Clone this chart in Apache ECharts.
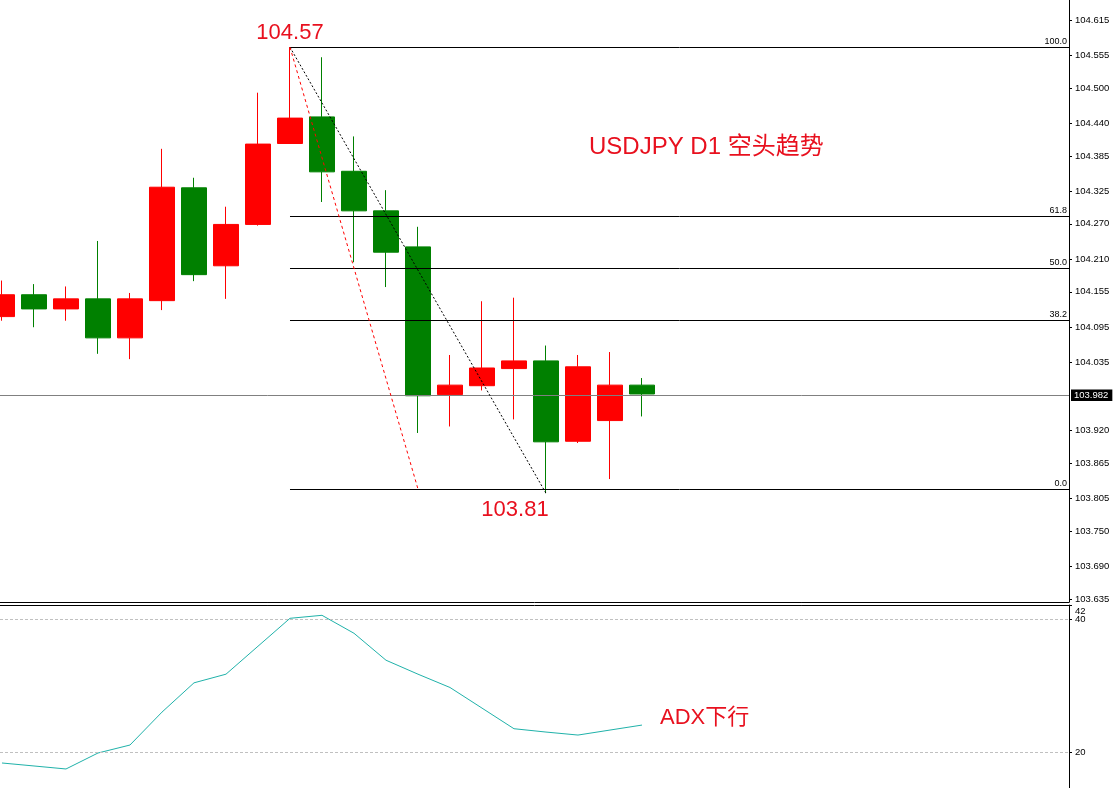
<!DOCTYPE html>
<html><head><meta charset="utf-8">
<script src="https://cdn.jsdelivr.net/npm/echarts@6/dist/echarts.min.js"></script>
<style>html,body{margin:0;padding:0;background:#fff;}#c{width:1117px;height:788px;}</style>
</head><body><div id="c"></div>
<script>
// ---- data ----
const bars   = [0,1,2,3,4,5,6,7,8,9,10,11,12,13,14,15,16,17,18,19,20];
const opens  = [104.113,104.150,104.126,104.143,104.077,104.140,104.331,104.199,104.269,104.406,104.451,104.359,104.292,104.231,103.981,103.996,104.025,104.038,103.902,103.937,103.997];
const closes = [104.150,104.126,104.143,104.077,104.143,104.332,104.184,104.269,104.405,104.449,104.358,104.292,104.222,103.979,103.997,104.026,104.038,103.901,104.028,103.997,103.982];
const lows   = [104.106,104.095,104.106,104.050,104.041,104.124,104.173,104.143,104.267,104.406,104.307,104.205,104.163,103.916,103.927,103.988,103.939,103.814,103.899,103.838,103.944];
const highs  = [104.174,104.168,104.164,104.241,104.153,104.397,104.348,104.299,104.492,104.569,104.552,104.418,104.327,104.265,104.048,104.139,104.145,104.064,104.048,104.053,104.009];
const adx    = [18.35,17.9,17.45,19.85,21.05,26.0,30.4,31.7,35.9,40.1,40.55,37.85,33.8,31.7,29.7,26.6,23.5,23.0,22.55,23.3,24.05];
const priceTicks = ['104.615','104.555','104.500','104.440','104.385','104.325','104.270','104.210','104.155','104.095','104.035','103.920','103.865','103.805','103.750','103.690','103.635'];
const adxTicks = ['20','40'];
const adxTopTick = ['42'];
const adxLevels = [20, 40];
const fibLevels = ['0.0','38.2','50.0','61.8','100.0'];
const fibHigh = 104.569, fibLow = 103.821;
const fibStartBar = 9, swingLowBar = 17, swingLowPrice = 103.814, fanEndBar = 13;
const lastPrice = 103.982;
const labelHigh = '104.57', labelLow = '103.81';
const titleText = 'USDJPY D1 空头趋势', adxNote = 'ADX下行';
const priceMin = 103.6299, priceMax = 104.6489;
const adxMin = 14.59, adxMax = 42.1;
const barMin = -0.0625, barMax = 33.344;

// ---- build ----
const RED = '#ff0000', GREEN = '#008000', TXT = '#e8101e';
const FONT = '"Liberation Sans","Noto Sans CJK SC",sans-serif';
const candleData = bars.map((b, i) => [b, opens[i], closes[i], lows[i], highs[i]]);
const adxData = bars.map((b, i) => [b, adx[i]]);

const fibLines = fibLevels.map(l => {
  const v = fibLow + (fibHigh - fibLow) * parseFloat(l) / 100;
  return [
    {coord: [fibStartBar, v], lineStyle: {color: '#000', width: 1, type: 'solid'},
     label: {show: true, formatter: l, position: 'insideEndTop', distance: [2, 1], color: '#000', fontSize: 9, fontFamily: FONT}},
    {coord: [barMax, v]}
  ];
});
const diagLines = [
  [{coord: [fibStartBar, fibHigh], lineStyle: {color: '#000', width: 1, type: [2, 2]}, label: {show: false}},
   {coord: [swingLowBar, swingLowPrice]}],
  [{coord: [fibStartBar, fibHigh], lineStyle: {color: RED, width: 1, type: [3, 3]}, label: {show: false}},
   {coord: [fanEndBar, fibLow]}]
];

const axisLabelBase = {show: true, margin: 6, color: '#000', fontSize: 9.5, fontFamily: FONT, hideOverlap: false};

const chart = echarts.init(document.getElementById('c'), null, {renderer: 'canvas'});
chart.setOption({
  animation: false,
  backgroundColor: '#fff',
  grid: [
    {left: 0, top: 0, width: 1069, height: 602, outerBoundsMode: 'none', containLabel: false},
    {left: 0, top: 605, width: 1069, height: 183, outerBoundsMode: 'none', containLabel: false}
  ],
  xAxis: [
    {type: 'value', gridIndex: 0, min: barMin, max: barMax, position: 'bottom',
     axisLine: {show: true, onZero: false, lineStyle: {color: '#000', width: 1}},
     axisTick: {show: false}, axisLabel: {show: false}, splitLine: {show: false}},
    {type: 'value', gridIndex: 1, min: barMin, max: barMax, position: 'top',
     axisLine: {show: true, onZero: false, lineStyle: {color: '#000', width: 1}},
     axisTick: {show: false}, axisLabel: {show: false}, splitLine: {show: false}}
  ],
  yAxis: [
    {type: 'value', gridIndex: 0, position: 'right', min: priceMin, max: priceMax, scale: true,
     axisLine: {show: true, onZero: false, lineStyle: {color: '#000', width: 1}},
     axisTick: {show: true, length: 3, lineStyle: {color: '#000'}, customValues: priceTicks.map(Number)},
     axisLabel: Object.assign({}, axisLabelBase, {showMinLabel: true, showMaxLabel: true,
                 customValues: priceTicks.map(Number), formatter: v => v.toFixed(3)}),
     splitLine: {show: false}},
    {type: 'value', gridIndex: 1, position: 'right', min: adxMin, max: adxMax,
     axisLine: {show: true, onZero: false, lineStyle: {color: '#000', width: 1}},
     axisTick: {show: true, length: 3, lineStyle: {color: '#000'}, customValues: adxTicks.map(Number)},
     axisLabel: Object.assign({}, axisLabelBase, {showMinLabel: true, showMaxLabel: true,
                 customValues: adxTicks.map(Number), formatter: v => String(Math.round(v))}),
     splitLine: {show: false}},
    {type: 'value', gridIndex: 1, position: 'right', min: adxMin, max: adxMax,
     axisLine: {show: false, onZero: false},
     axisTick: {show: true, length: 3, lineStyle: {color: '#000'}, customValues: adxTopTick.map(Number)},
     axisLabel: Object.assign({}, axisLabelBase, {showMinLabel: true, showMaxLabel: true,
                 customValues: adxTopTick.map(Number),
                 formatter: v => '{t|' + Math.round(v) + '}',
                 rich: {t: {padding: [11, 0, 0, 0], fontSize: 9.5, fontFamily: FONT, color: '#000'}}}),
     splitLine: {show: false}}
  ],
  series: [
    {type: 'candlestick', xAxisIndex: 0, yAxisIndex: 0, data: candleData,
     encode: {x: 0, y: [1, 2, 3, 4]}, barWidth: 25,
     itemStyle: {color: RED, color0: GREEN, borderColor: RED, borderColor0: GREEN, borderWidth: 1},
     markLine: {silent: true, symbol: ['none', 'none'], animation: false,
       data: [
         {yAxis: lastPrice, lineStyle: {color: '#808080', width: 1, type: 'solid'},
          label: {show: true, position: 'end', distance: 2, formatter: lastPrice.toFixed(3), color: '#fff',
                  backgroundColor: '#000', padding: [1, 4, 1, 3], fontSize: 9.5, fontFamily: FONT}}
       ].concat(fibLines).concat(diagLines)}
    },
    {type: 'line', xAxisIndex: 1, yAxisIndex: 1, data: adxData, showSymbol: false, symbol: 'none',
     lineStyle: {color: '#20b2aa', width: 1}, itemStyle: {color: '#20b2aa'},
     markLine: {silent: true, symbol: ['none', 'none'], label: {show: false},
       lineStyle: {color: '#c0c0c0', width: 1, type: [3, 2]},
       data: adxLevels.map(v => ({yAxis: v}))}}
  ],
  graphic: [
    {type: 'text', x: 290, y: 33, style: {text: labelHigh, font: '22px ' + FONT, fill: TXT, align: 'center', verticalAlign: 'middle'}},
    {type: 'text', x: 515, y: 510, style: {text: labelLow, font: '22px ' + FONT, fill: TXT, align: 'center', verticalAlign: 'middle'}},
    {type: 'text', x: 589, y: 147, style: {text: titleText, font: '24px ' + FONT, fill: TXT, align: 'left', verticalAlign: 'middle'}},
    {type: 'text', x: 660, y: 718, style: {text: adxNote, font: '22px ' + FONT, fill: TXT, align: 'left', verticalAlign: 'middle'}}
  ]
});
</script></body></html>
